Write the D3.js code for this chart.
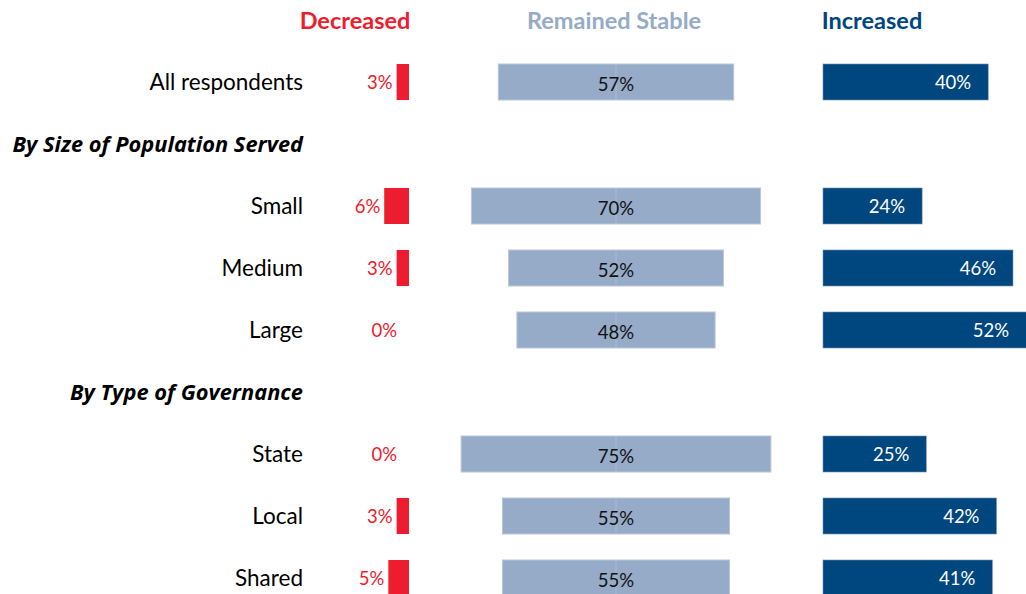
<!DOCTYPE html>
<html>
<head>
<meta charset="utf-8">
<script src="https://cdn.jsdelivr.net/npm/d3@7"></script>
<style>
  body { margin: 0; background: #fff; }
  svg text { font-family: Lato, "Open Sans", sans-serif; }
</style>
</head>
<body>
<div class="chart"></div>
<script>
const categories = ["All respondents", "By Size of Population Served", "Small", "Medium", "Large",
                    "By Type of Governance", "State", "Local", "Shared"];
const isGroupHeader = [false, true, false, false, false, true, false, false, false];
const decreased = [3, null, 6, 3, 0, null, 0, 3, 5];
const stable = [57, null, 70, 52, 48, null, 75, 55, 55];
const increased = [40, null, 24, 46, 52, null, 25, 42, 41];
const seriesNames = ["Decreased", "Remained Stable", "Increased"];

const width = 1026, height = 594;
const red = "#ed1c2e", grey = "#95abc7", navy = "#00467f";

const data = categories.map((c, i) => ({
    cat: c, header: isGroupHeader[i],
    dec: decreased[i], stab: stable[i], inc: increased[i]
}));

const svg = d3.select(".chart").append("svg")
    .attr("width", width)
    .attr("height", height);

const y = d3.scalePoint()
    .domain(categories)
    .range([82, 578]);

// one percent is the same length in all three panels
const w = d3.scaleLinear().domain([0, 100]).range([0, 413]);
const decEnd = 409, stabMid = 616, incStart = 823;
const barH = 36;

// column titles
const titles = [
    {t: seriesNames[0], x: 355, c: red},
    {t: seriesNames[1], x: 614, c: grey},
    {t: seriesNames[2], x: 872, c: navy}
];
svg.selectAll(".title")
    .data(titles)
    .enter()
    .append("text")
    .attr("class", "title")
    .attr("x", d => d.x)
    .attr("y", 21)
    .attr("dy", "0.35em")
    .attr("text-anchor", "middle")
    .attr("font-size", "23.5px")
    .attr("font-weight", "bold")
    .attr("fill", d => d.c)
    .text(d => d.t);

// row labels
svg.selectAll(".rowlabel")
    .data(data)
    .enter()
    .append("text")
    .attr("class", "rowlabel")
    .attr("x", 303)
    .attr("y", d => y(d.cat))
    .attr("dy", "0.35em")
    .attr("text-anchor", "end")
    .attr("font-size", d => d.header ? "21.8px" : "22.5px")
    .style("font-family", d => d.header ? "'Open Sans', sans-serif" : null)
    .attr("font-weight", d => d.header ? "bold" : "normal")
    .attr("font-style", d => d.header ? "italic" : "normal")
    .attr("fill", "#000")
    .text(d => d.cat);

const rows = data.filter(d => !d.header);

// decreased
svg.selectAll(".dec")
    .data(rows)
    .enter()
    .append("rect")
    .attr("class", "dec")
    .attr("x", d => decEnd - w(d.dec))
    .attr("y", d => y(d.cat) - barH / 2)
    .attr("width", d => w(d.dec))
    .attr("height", barH)
    .attr("fill", red);

svg.selectAll(".declabel")
    .data(rows)
    .enter()
    .append("text")
    .attr("class", "declabel")
    .attr("x", d => d.dec > 0 ? decEnd - w(d.dec) - 4 : decEnd - 12)
    .attr("y", d => y(d.cat) + 1)
    .attr("dy", "0.35em")
    .attr("text-anchor", "end")
    .attr("font-size", "18.5px")
    .attr("fill", red)
    .text(d => d.dec + "%");

// remained stable, centred
svg.selectAll(".stab")
    .data(rows)
    .enter()
    .append("rect")
    .attr("class", "stab")
    .attr("x", d => stabMid - w(d.stab) / 2)
    .attr("y", d => y(d.cat) - barH / 2)
    .attr("width", d => w(d.stab))
    .attr("height", barH)
    .attr("fill", grey)
    .attr("stroke", "#b9c8da")
    .attr("stroke-width", 1);

svg.selectAll(".seam")
    .data(rows)
    .enter()
    .append("line")
    .attr("class", "seam")
    .attr("x1", stabMid).attr("x2", stabMid)
    .attr("y1", d => y(d.cat) - barH / 2)
    .attr("y2", d => y(d.cat) + barH / 2)
    .attr("stroke", "#a8bbd2")
    .attr("stroke-width", 1);

svg.selectAll(".stablabel")
    .data(rows)
    .enter()
    .append("text")
    .attr("class", "stablabel")
    .attr("x", stabMid)
    .attr("y", d => y(d.cat) + 3)
    .attr("dy", "0.35em")
    .attr("text-anchor", "middle")
    .attr("font-size", "18.5px")
    .attr("fill", "#111")
    .text(d => d.stab + "%");

// increased
svg.selectAll(".inc")
    .data(rows)
    .enter()
    .append("rect")
    .attr("class", "inc")
    .attr("x", incStart)
    .attr("y", d => y(d.cat) - barH / 2)
    .attr("width", d => w(d.inc))
    .attr("height", barH)
    .attr("fill", navy)
    .attr("stroke", "#6f8fb5")
    .attr("stroke-width", 0.6);

svg.selectAll(".inclabel")
    .data(rows)
    .enter()
    .append("text")
    .attr("class", "inclabel")
    .attr("x", d => Math.min(incStart + w(d.inc), width) - 17)
    .attr("y", d => y(d.cat) + 1)
    .attr("dy", "0.35em")
    .attr("text-anchor", "end")
    .attr("font-size", "18.5px")
    .attr("fill", "#fff")
    .text(d => d.inc + "%");
</script>
</body>
</html>
